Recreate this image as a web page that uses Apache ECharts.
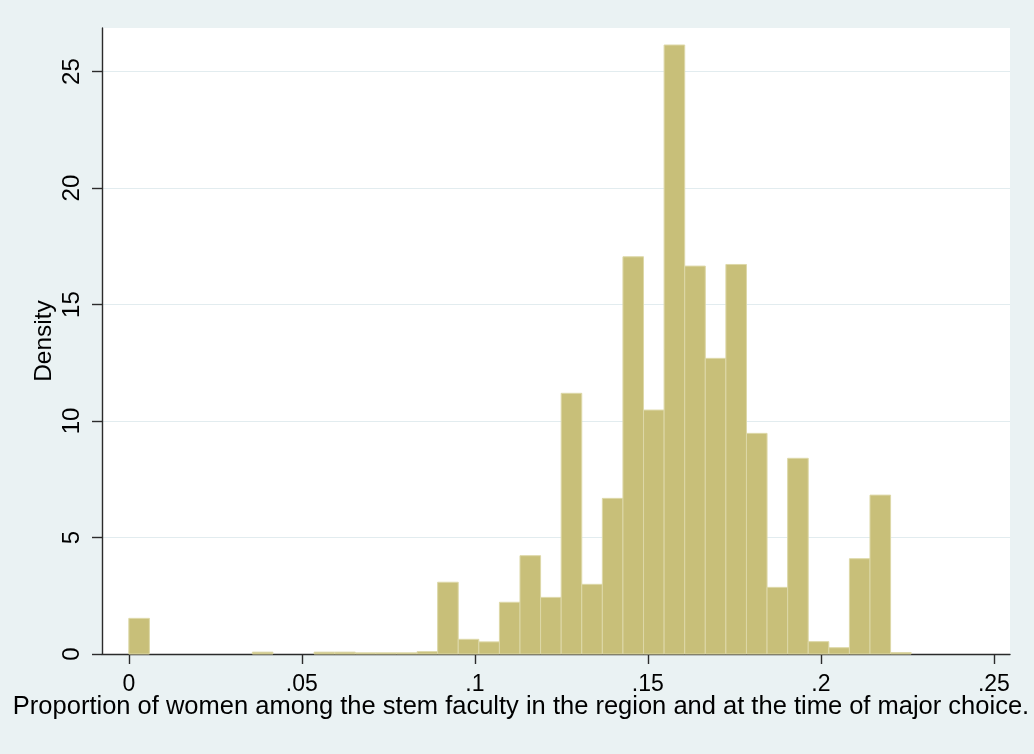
<!DOCTYPE html>
<html>
<head>
<meta charset="utf-8">
<title>Proportion of women among the stem faculty</title>
<script src="https://cdn.jsdelivr.net/npm/echarts@6/dist/echarts.min.js"></script>
<style>
  html, body { margin: 0; padding: 0; background: #eaf2f3; }
  #chart { width: 1034px; height: 754px; }
</style>
</head>
<body>
<div id="chart"></div>
<script>
// Histogram bins: equal-width bins starting at binStart
const binStart = 0;
const binWidth = 0.00595;
const density = [
  1.53, 0, 0, 0, 0, 0, 0.08, 0, 0, 0.08,
  0.08, 0.05, 0.05, 0.05, 0.10, 3.08, 0.63, 0.52, 2.22, 4.22,
  2.43, 11.19, 2.99, 6.68, 17.05, 10.47, 26.14, 16.65, 12.69, 16.72,
  9.47, 2.86, 8.40, 0.53, 0.27, 4.09, 6.82, 0.06
];

// Axis ticks and labels
const xTicks = [0, 0.05, 0.1, 0.15, 0.2, 0.25];
const yTicks = [0, 5, 10, 15, 20, 25];
const xTitle = 'Proportion of women among the stem faculty in the region and at the time of major choice.';
const yTitle = 'Density';

// Plot-region extents
const xMin = -0.00775, xMax = 0.25466;
const yMin = 0, yMax = 26.87;

const FONT = 'Liberation Sans, Arial, Helvetica, sans-serif';
const AXIS_COLOR = '#2b2b2b';

const binData = density.map((d, i) => [
  binStart + i * binWidth,
  binStart + (i + 1) * binWidth,
  d
]);

const chart = echarts.init(document.getElementById('chart'), null, { renderer: 'canvas' });

chart.setOption({
  backgroundColor: '#eaf2f3',
  animation: false,
  grid: {
    left: 102, right: 24, top: 28, bottom: 100,
    show: true, backgroundColor: '#ffffff', borderWidth: 0
  },
  xAxis: {
    type: 'value',
    min: xMin, max: xMax,
    axisLine: { show: true, onZero: false, lineStyle: { color: AXIS_COLOR, width: 1.4 } },
    axisTick: { show: true, length: 10, customValues: xTicks, lineStyle: { color: AXIS_COLOR, width: 1.4 } },
    axisLabel: {
      customValues: xTicks,
      margin: 19,
      fontSize: 23, color: '#000', fontFamily: FONT,
      formatter: v => (v === 0 ? '0' : String(+v.toFixed(3)).replace(/^0/, ''))
    },
    splitLine: { show: false }
  },
  yAxis: {
    type: 'value',
    min: yMin, max: yMax,
    axisLine: { show: true, onZero: false, lineStyle: { color: AXIS_COLOR, width: 1.4 } },
    axisTick: { show: true, length: 10, customValues: yTicks, lineStyle: { color: AXIS_COLOR, width: 1.4 } },
    axisLabel: {
      customValues: yTicks,
      rotate: 90,
      margin: 18,
      fontSize: 24, color: '#000', fontFamily: FONT
    },
    splitLine: { show: true, lineStyle: { color: '#e2ecef', width: 1.2 } }
  },
  graphic: [
    {
      type: 'text',
      x: 521, y: 707,
      style: {
        text: xTitle, fill: '#000',
        font: '25.5px ' + FONT,
        align: 'center', verticalAlign: 'middle'
      }
    },
    {
      type: 'text',
      x: 44, y: 341,
      rotation: Math.PI / 2,
      style: {
        text: yTitle, fill: '#000',
        font: '24.5px ' + FONT,
        align: 'center', verticalAlign: 'middle'
      }
    }
  ],
  series: [{
    type: 'custom',
    data: binData,
    encode: { x: [0, 1], y: 2 },
    renderItem: (params, api) => {
      const h = api.value(2);
      if (!h) return null;
      const tl = api.coord([api.value(0), h]);
      const br = api.coord([api.value(1), 0]);
      return {
        type: 'rect',
        shape: { x: tl[0], y: tl[1], width: br[0] - tl[0], height: br[1] - tl[1] },
        style: { fill: '#c8bf79', stroke: '#ddd8a8', lineWidth: 1 }
      };
    }
  }]
});
</script>
</body>
</html>
